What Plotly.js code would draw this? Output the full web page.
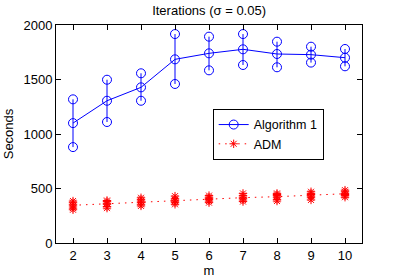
<!DOCTYPE html>
<html><head><meta charset="utf-8">
<script src="https://cdn.plot.ly/plotly-3.0.1.min.js"></script>
<style>html,body{margin:0;padding:0;background:#fff}#chart{width:399px;height:280px}</style>
</head><body><div id="chart"></div>
<script>
const mValues = [2, 3, 4, 5, 6, 7, 8, 9, 10];
const algMean  = [1100, 1305, 1428, 1685, 1740, 1777, 1734, 1728, 1700];
const algUpper = [1318, 1498, 1557, 1917, 1893, 1917, 1847, 1801, 1780];
const algLower = [880, 1110, 1305, 1459, 1584, 1633, 1612, 1655, 1621];
const admRuns = [
  [305, 320, 340, 355, 370, 385],
  [320, 335, 355, 365, 380, 390],
  [340, 355, 370, 385, 400, 415],
  [355, 370, 385, 395, 410, 430],
  [370, 385, 400, 410, 420, 435],
  [380, 395, 410, 420, 435, 455],
  [385, 400, 420, 435, 445, 455],
  [395, 415, 430, 445, 455, 470],
  [420, 435, 445, 455, 470, 485]
];
const admMean = [346, 360, 375, 390, 403, 416, 425, 437, 452];

const blue = '#0000ff', red = '#ff0000';

const admX = [], admY = [];
mValues.forEach((m, i) => admRuns[i].forEach(v => { admX.push(m); admY.push(v); }));

const ends = {x: [], y: []};
mValues.forEach((m, i) => { ends.x.push(m, m); ends.y.push(algUpper[i], algLower[i]); });

const admDash = '1.5px,5px';

const traces = [
  {x: mValues, y: algMean, mode: 'lines+markers', name: 'Algorithm 1',
   line: {color: blue, width: 1},
   marker: {symbol: 'circle-open', size: 9, color: blue, line: {width: 1, color: blue}},
   error_y: {type: 'data', symmetric: false,
     array: algUpper.map((u, i) => u - algMean[i]),
     arrayminus: algMean.map((a, i) => a - algLower[i]),
     color: blue, thickness: 1, width: 0}},
  {x: ends.x, y: ends.y, mode: 'markers', showlegend: false, hoverinfo: 'skip',
   marker: {symbol: 'circle-open', size: 9, color: blue, line: {width: 1, color: blue}}},
  {x: mValues, y: admMean, mode: 'lines', showlegend: false,
   line: {color: red, width: 1, dash: admDash}},
  {x: admX, y: admY, mode: 'markers', showlegend: false,
   marker: {symbol: 'asterisk-open', size: 7, color: red, line: {width: 1, color: red}}},
  {x: [null], y: [null], mode: 'lines+markers', name: 'ADM',
   line: {color: red, width: 1, dash: admDash},
   marker: {symbol: 'asterisk-open', size: 7, color: red, line: {width: 1, color: red}}}
];

const axisCommon = {showline: true, linecolor: '#000', linewidth: 1, mirror: 'ticks',
  ticks: 'inside', ticklen: 5, tickcolor: '#000', showgrid: false, zeroline: false,
  tickfont: {size: 13, color: '#000'}};

const layout = {
  width: 399, height: 280,
  margin: {l: 56, r: 37, t: 25, b: 37},
  paper_bgcolor: '#fff', plot_bgcolor: '#fff',
  font: {family: 'Liberation Sans, Arial, sans-serif', size: 13, color: '#000'},
  title: {text: 'Iterations (σ = 0.05)', x: 0.524, xanchor: 'center', y: 0.962, yanchor: 'middle', font: {size: 13}},
  xaxis: Object.assign({}, axisCommon, {range: [1.5, 10.5], tickvals: mValues,
    title: {text: 'm', standoff: 2, font: {size: 13}}}),
  yaxis: Object.assign({}, axisCommon, {range: [0, 2000], tickvals: [0, 500, 1000, 1500, 2000],
    title: {text: 'Seconds', standoff: 6, font: {size: 13}}}),
  legend: {x: 0.512, y: 0.615, xanchor: 'left', yanchor: 'top', bgcolor: '#fff',
    bordercolor: '#000', borderwidth: 1, font: {size: 12.5}, tracegroupgap: 0},
  showlegend: true
};

Plotly.newPlot('chart', traces, layout, {displayModeBar: false, staticPlot: true});
</script></body></html>
